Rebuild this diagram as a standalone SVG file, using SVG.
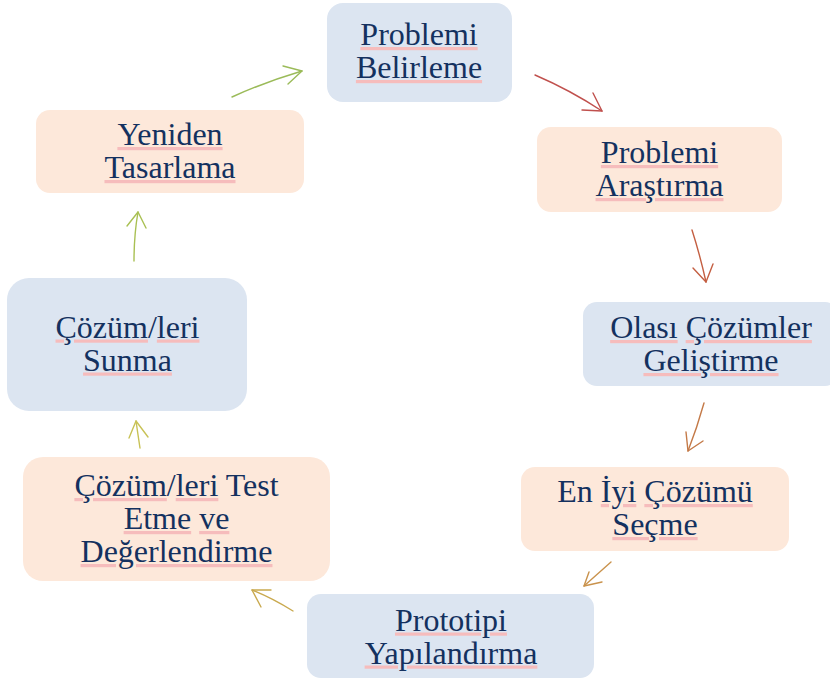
<svg xmlns="http://www.w3.org/2000/svg" width="830" height="682" viewBox="0 0 830 682">
<style>
.blue{fill:#dce5f1}
.peach{fill:#fde8da}
.t{font-family:"Liberation Serif","Times New Roman",serif;font-size:32px;fill:#14315f;text-anchor:middle}
.u{text-decoration:underline;fill:#f6bcbc}
.w{fill:#14315f}
.c path{fill:none;stroke-width:1.4;stroke-linecap:round;stroke-linejoin:round}
</style>
<rect width="830" height="682" fill="#ffffff"/>
<g id="n1">
<rect class="blue" x="327" y="3" width="185" height="99" rx="16"/>
<text class="t" x="419" y="45"><tspan class="u"><tspan class="w">Problemi</tspan></tspan></text>
<text class="t" x="419" y="78"><tspan class="u"><tspan class="w">Belirleme</tspan></tspan></text>
</g>
<g id="n2">
<rect class="peach" x="537" y="127" width="245" height="85" rx="14"/>
<text class="t" x="659.5" y="163"><tspan class="u"><tspan class="w">Problemi</tspan></tspan></text>
<text class="t" x="659.5" y="196"><tspan class="u"><tspan class="w">Araştırma</tspan></tspan></text>
</g>
<g id="n3">
<rect class="blue" x="583" y="302" width="256" height="84" rx="14"/>
<text class="t" x="711" y="338"><tspan class="u"><tspan class="w">Olası</tspan></tspan> <tspan class="u"><tspan class="w">Çözümler</tspan></tspan></text>
<text class="t" x="711" y="371"><tspan class="u"><tspan class="w">Geliştirme</tspan></tspan></text>
</g>
<g id="n4">
<rect class="peach" x="521" y="467" width="268" height="84" rx="14"/>
<text class="t" x="655" y="502">En <tspan class="u"><tspan class="w">İyi</tspan></tspan> <tspan class="u"><tspan class="w">Çözümü</tspan></tspan></text>
<text class="t" x="655" y="535"><tspan class="u"><tspan class="w">Seçme</tspan></tspan></text>
</g>
<g id="n5">
<rect class="blue" x="307" y="594" width="287" height="84" rx="14"/>
<text class="t" x="451" y="630.5"><tspan class="u"><tspan class="w">Prototipi</tspan></tspan></text>
<text class="t" x="451" y="663.5"><tspan class="u"><tspan class="w">Yapılandırma</tspan></tspan></text>
</g>
<g id="n6">
<rect class="peach" x="23" y="457" width="307" height="124" rx="20"/>
<text class="t" x="176.5" y="496"><tspan class="u"><tspan class="w">Çözüm</tspan></tspan>/<tspan class="u"><tspan class="w">leri</tspan></tspan> Test</text>
<text class="t" x="176.5" y="529"><tspan class="u"><tspan class="w">Etme</tspan></tspan> <tspan class="u"><tspan class="w">ve</tspan></tspan></text>
<text class="t" x="176.5" y="562"><tspan class="u"><tspan class="w">Değerlendirme</tspan></tspan></text>
</g>
<g id="n7">
<rect class="blue" x="7" y="278" width="240" height="133" rx="22"/>
<text class="t" x="127.5" y="337.5"><tspan class="u"><tspan class="w">Çözüm</tspan></tspan>/<tspan class="u"><tspan class="w">leri</tspan></tspan></text>
<text class="t" x="127.5" y="370.5"><tspan class="u"><tspan class="w">Sunma</tspan></tspan></text>
</g>
<g id="n8">
<rect class="peach" x="36" y="110" width="268" height="83" rx="14"/>
<text class="t" x="170" y="145"><tspan class="u"><tspan class="w">Yeniden</tspan></tspan></text>
<text class="t" x="170" y="178"><tspan class="u"><tspan class="w">Tasarlama</tspan></tspan></text>
</g>
<g id="connectors" class="c">
<g id="e1" stroke="#c0504d"><path d="M535,75 Q570,90 602,111"/><path d="M593,93 L602,111 L582,110"/></g>
<g id="e2" stroke="#c45f42"><path d="M692,230 Q700,255 706,282"/><path d="M693,268 L706,282 L713,264"/></g>
<g id="e3" stroke="#c47a48"><path d="M704,403 Q697,428 688,451"/><path d="M686,432 L688,451 L703,441"/></g>
<g id="e4" stroke="#c9924c"><path d="M611,562 L584,586"/><path d="M589,572 L584,586 L602,582"/></g>
<g id="e5" stroke="#c9a94e"><path d="M293,611 Q272,598 252,590"/><path d="M271,590 L252,590 L261,607"/></g>
<g id="e6" stroke="#c8c256"><path d="M140,448 Q138,435 136,421"/><path d="M129,438 L136,421 L148,437"/></g>
<g id="e7" stroke="#a9c053"><path d="M134,261 Q134,235 138,212"/><path d="M127,226 L138,212 L146,228"/></g>
<g id="e8" stroke="#9bbb59"><path d="M232,97 Q265,82 302,71"/><path d="M283,66 L302,71 L288,84"/></g>
</g>
</svg>
